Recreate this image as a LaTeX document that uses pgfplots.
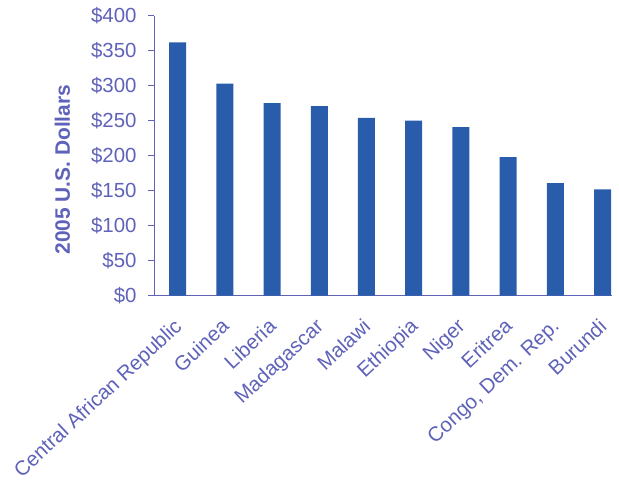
\documentclass[border=0pt]{standalone}
\usepackage{fontspec}
\setmainfont{Liberation Sans}
\usepackage{pgfplots}
\pgfplotsset{compat=1.18}
\definecolor{barc}{RGB}{42,92,172}
\definecolor{axc}{RGB}{95,98,185}
\begin{document}
\begin{tikzpicture}
\begin{axis}[
  scale only axis, width=458bp, height=280bp,
  xmin=-0.5, xmax=9.2, ymin=0, ymax=400,
  axis lines*=left,
  axis line style={axc, line width=0.8pt, -},
  ytick={0,50,100,150,200,250,300,350,400},
  yticklabels={\$0,\$50,\$100,\$150,\$200,\$250,\$300,\$350,\$400},
  yticklabel style={text=axc, font=\fontsize{20.5}{20.5}\selectfont, xshift=-8bp},
  ytick style={axc, line width=0.8pt},
  tick align=outside, major tick length=6bp,
  xtick=data,
  xtick style={draw=none},
  xticklabels={Central African Republic,Guinea,Liberia,Madagascar,Malawi,Ethiopia,Niger,Eritrea,{Congo, Dem. Rep.},Burundi},
  xticklabel style={text=axc, font=\fontsize{20.5}{20.5}\selectfont, rotate=43, anchor=north east, inner sep=1pt, xshift=-13bp, yshift=-7bp},
  ylabel={\bfseries 2005 U.S. Dollars},
  ylabel style={text=axc, font=\fontsize{21}{21}\selectfont, yshift=14bp, xshift=-14bp},
  clip=false,
]
\addplot[ybar, bar width=17bp, fill=barc, draw=none] coordinates {
(0,362) (1,303) (2,275) (3,271) (4,254) (5,250) (6,241) (7,198) (8,161) (9,152)
};
\end{axis}
\pgfresetboundingbox
\path (current axis.south west) ++(-154bp,-184.3bp) rectangle ++(619bp,480bp);
\end{tikzpicture}
\end{document}
